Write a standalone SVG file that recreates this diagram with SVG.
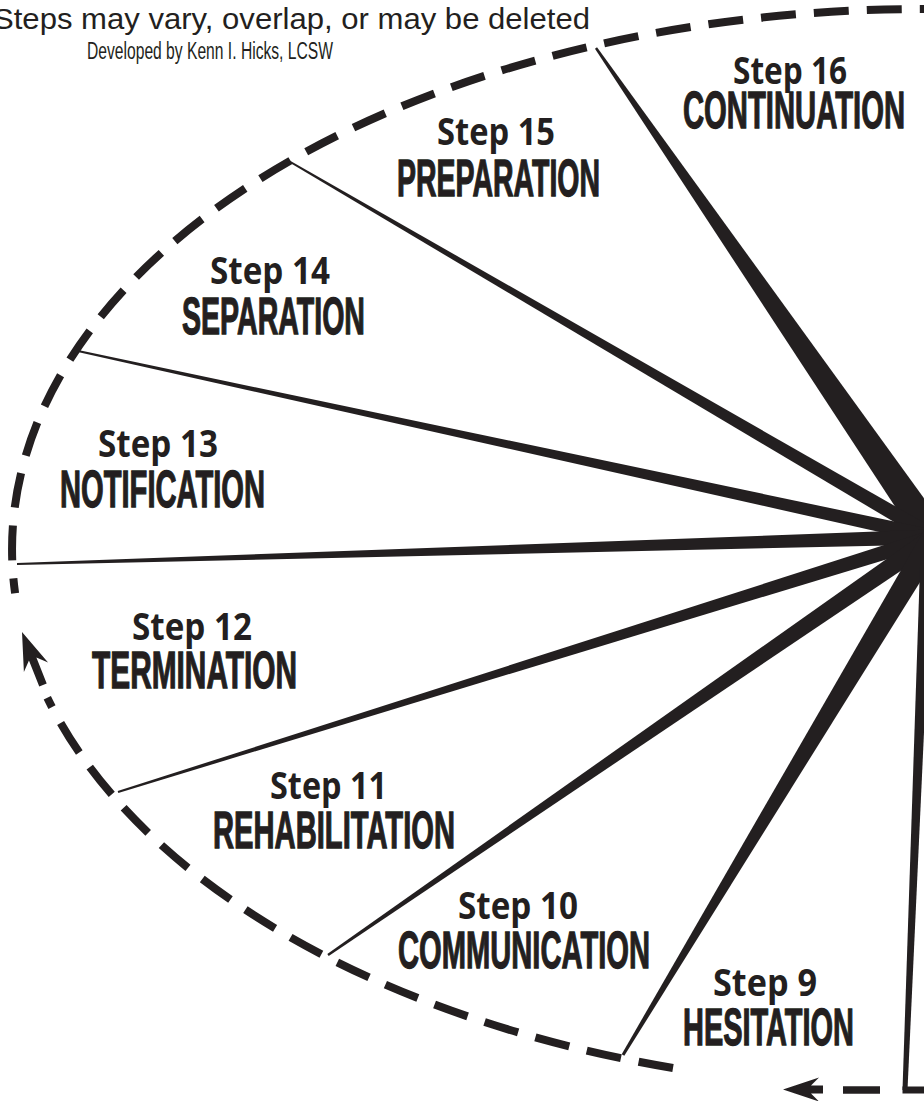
<svg xmlns="http://www.w3.org/2000/svg" width="924" height="1101" viewBox="0 0 924 1101">
<defs>
<style>
.ink{fill:#231f20}
.dash{fill:none;stroke:#231f20;stroke-width:8;stroke-dasharray:35 18}
.step{font-family:"Open Sans","Liberation Sans",sans-serif;font-weight:700;font-size:38px;fill:#231f20}
.name{font-family:"Liberation Sans Narrow","Liberation Sans",sans-serif;font-weight:700;font-size:52px;fill:#231f20;stroke:#231f20;stroke-width:1.3}
.note{font-family:"Liberation Sans",sans-serif;fill:#231f20}
</style>
<path id="arrowhead" d="M0,0 L-36,-12 L-28,-4 L-40,-4 L-40,4 L-28,4 L-36,12 Z"/>
</defs>
<rect width="924" height="1101" fill="#ffffff"/>

<g id="connectors">
  <g id="spokes" class="ink">
    <polygon points="594.97,48.71 921.4,546.7 946.6,529.3 597.03,47.29"/>
    <polygon points="286.50,160.86 930.22,543.48 937.78,530.52 287.50,159.14"/>
    <polygon points="77.79,351.98 932.51,543.84 935.49,530.16 78.21,350.02"/>
    <polygon points="17.03,565.0 934.22,544.5 933.78,529.5 16.97,563.0"/>
    <polygon points="118.30,792.95 936.24,544.16 931.76,529.84 117.70,791.05"/>
    <polygon points="328.71,956.03 939.39,544.82 928.61,529.18 327.29,953.97"/>
    <polygon points="624.29,1055.77 944.29,543.18 923.71,530.82 621.71,1054.23"/>
    <polygon points="907.5,1090 933,537.2 921,536.8 902.5,1090"/>
    <rect x="902.5" y="1086.5" width="30" height="7"/>
  </g>
  <g id="cycle">
    <path class="dash" d="M673,1068 A912,540 0 0 1 47.3,697.8"/>
    <path class="dash" style="stroke-dashoffset:20" d="M15.1,593.2 A912,540 0 0 1 1082.4,17.2"/>
    <line x1="843" y1="1090" x2="880" y2="1090" stroke="#231f20" stroke-width="7.5"/>
    <use href="#arrowhead" class="ink" transform="translate(783,1089.5) rotate(180)"/>
    <path class="ink" transform="translate(22,632) rotate(248.4)" d="M0,0 L-38,-13 L-29,-4 L-57,-4 L-57,4 L-29,4 L-38,13 Z"/>
  </g>
</g>

<g id="header">
  <text class="note" x="-7" y="29" font-size="29" textLength="597" lengthAdjust="spacingAndGlyphs">Steps may vary, overlap, or may be deleted</text>
  <text class="note" x="87" y="59" font-size="23" textLength="246" lengthAdjust="spacingAndGlyphs">Developed by Kenn I. Hicks, LCSW</text>
</g>

<g id="step-16">
  <text class="step" x="733" y="84" textLength="114" lengthAdjust="spacingAndGlyphs">Step 16</text>
  <text class="name" x="683" y="128" textLength="222" lengthAdjust="spacingAndGlyphs">CONTINUATION</text>
</g>
<g id="step-15">
  <text class="step" x="437" y="145" textLength="118" lengthAdjust="spacingAndGlyphs">Step 15</text>
  <text class="name" x="397" y="196" textLength="203" lengthAdjust="spacingAndGlyphs">PREPARATION</text>
</g>
<g id="step-14">
  <text class="step" x="210" y="284" textLength="120" lengthAdjust="spacingAndGlyphs">Step 14</text>
  <text class="name" x="182" y="334" textLength="183" lengthAdjust="spacingAndGlyphs">SEPARATION</text>
</g>
<g id="step-13">
  <text class="step" x="98" y="457" textLength="120" lengthAdjust="spacingAndGlyphs">Step 13</text>
  <text class="name" x="60" y="507" textLength="205" lengthAdjust="spacingAndGlyphs">NOTIFICATION</text>
</g>
<g id="step-12">
  <text class="step" x="132" y="640" textLength="120" lengthAdjust="spacingAndGlyphs">Step 12</text>
  <text class="name" x="92" y="688" textLength="205" lengthAdjust="spacingAndGlyphs">TERMINATION</text>
</g>
<g id="step-11">
  <text class="step" x="270" y="799" textLength="117" lengthAdjust="spacingAndGlyphs">Step 11</text>
  <text class="name" x="213" y="848" textLength="242" lengthAdjust="spacingAndGlyphs">REHABILITATION</text>
</g>
<g id="step-10">
  <text class="step" x="458" y="919" textLength="120" lengthAdjust="spacingAndGlyphs">Step 10</text>
  <text class="name" x="398" y="968" textLength="252" lengthAdjust="spacingAndGlyphs">COMMUNICATION</text>
</g>
<g id="step-9">
  <text class="step" x="713" y="996" textLength="104" lengthAdjust="spacingAndGlyphs">Step 9</text>
  <text class="name" x="683" y="1045" textLength="171" lengthAdjust="spacingAndGlyphs">HESITATION</text>
</g>
</svg>
